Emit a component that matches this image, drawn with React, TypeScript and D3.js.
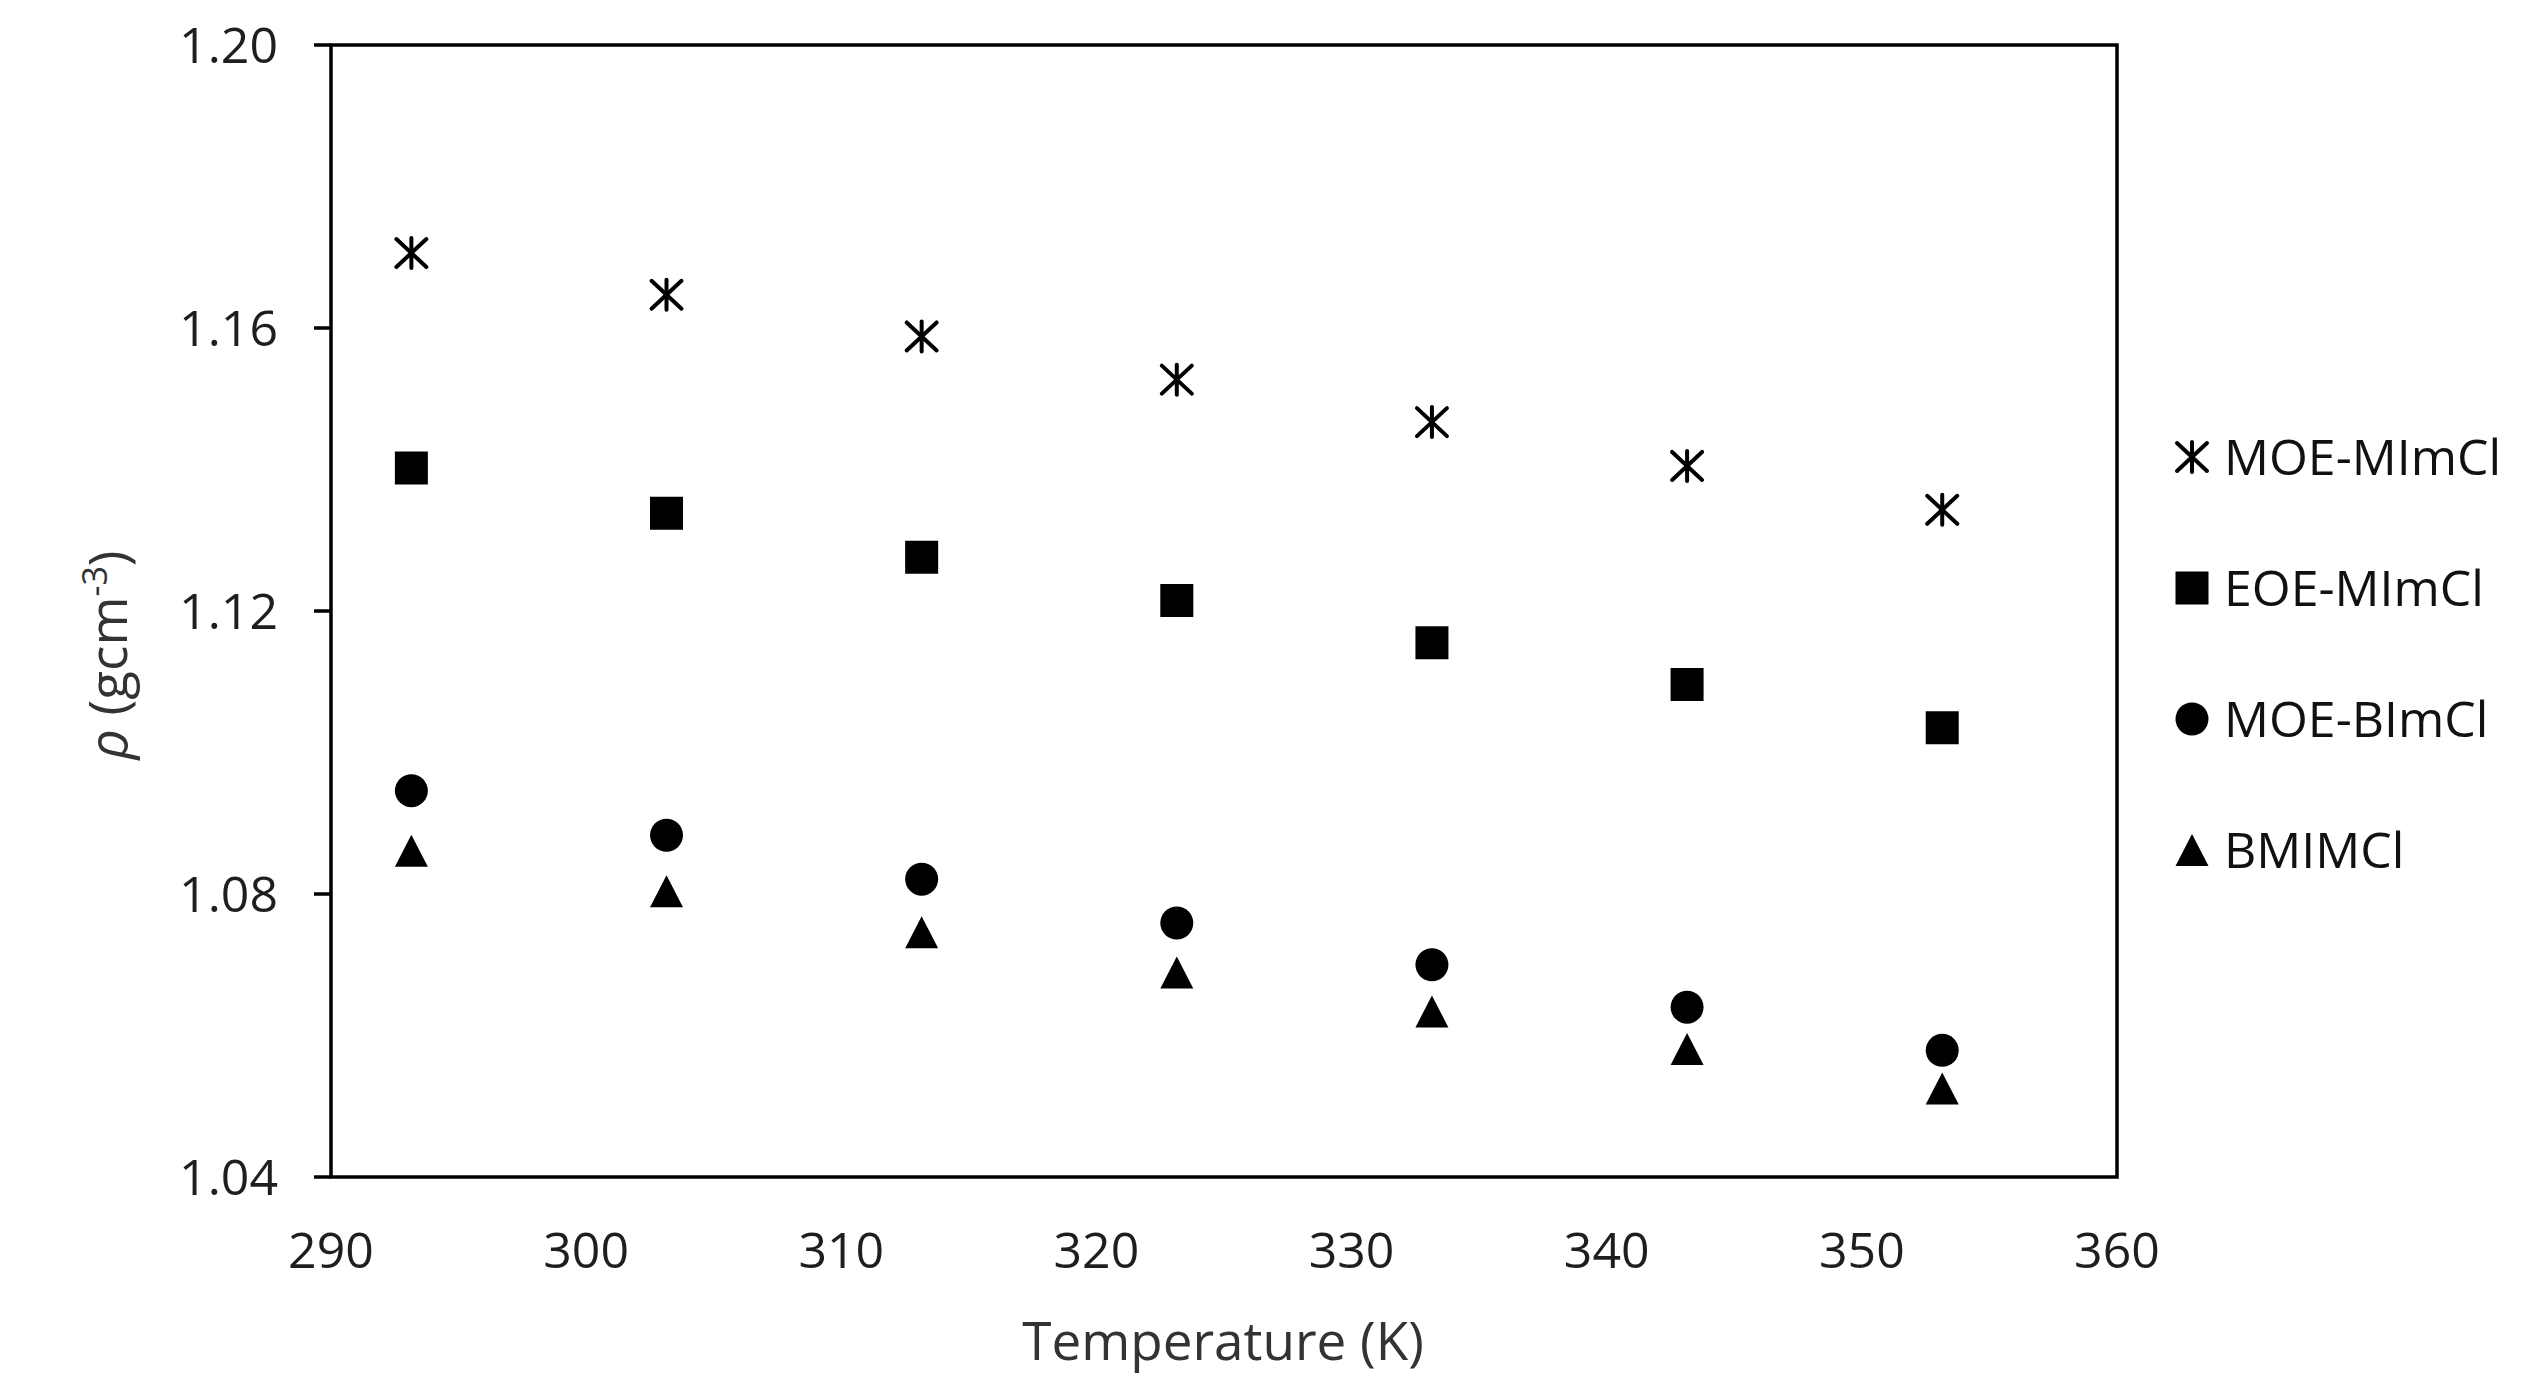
import React from "react";
import * as d3 from "d3";

const temperatures = [293.15, 303.15, 313.15, 323.15, 333.15, 343.15, 353.15];
const moeMImCl = [1.1706, 1.1647, 1.1588, 1.1527, 1.1467, 1.1405, 1.1343];
const eoeMImCl = [1.1402, 1.1338, 1.1276, 1.1215, 1.1155, 1.1096, 1.1035];
const moeBImCl = [1.0946, 1.0883, 1.0821, 1.0759, 1.0700, 1.0640, 1.0579];
const bmimCl = [1.0861, 1.0804, 1.0746, 1.0689, 1.0634, 1.0581, 1.0525];

const seriesNames = ["MOE-MImCl", "EOE-MImCl", "MOE-BImCl", "BMIMCl"];
const seriesMarkers = ["asterisk", "square", "circle", "triangle"];
const xTicks = [290, 300, 310, 320, 330, 340, 350, 360];
const yTicks = [1.04, 1.08, 1.12, 1.16, 1.2];

const W = 2535;
const H = 1392;
const left = 331;
const right = 2117;
const top = 45;
const bottom = 1177;

const FONT = "'Open Sans', 'DejaVu Sans', sans-serif";

function Marker({ kind, cx, cy }: { kind: string; cx: number; cy: number }) {
  if (kind === "asterisk") {
    const hw = 15, hh = 14;
    return (
      <g transform={`translate(${cx},${cy})`} stroke="#000" strokeWidth={4} strokeLinecap="round">
        <line x1={0} y1={-hh - 1} x2={0} y2={hh + 1} />
        <line x1={-hw} y1={-hh} x2={hw} y2={hh} />
        <line x1={-hw} y1={hh} x2={hw} y2={-hh} />
      </g>
    );
  }
  if (kind === "square") {
    const path = d3.symbol(d3.symbolSquare, 33 * 33)();
    return <path d={path || ""} transform={`translate(${cx},${cy})`} fill="#000" />;
  }
  if (kind === "circle") {
    const path = d3.symbol(d3.symbolCircle, Math.PI * 16.5 * 16.5)();
    return <path d={path || ""} transform={`translate(${cx},${cy})`} fill="#000" />;
  }
  const w = 33, h = 32;
  const p = d3.path();
  p.moveTo(0, -h / 2);
  p.lineTo(w / 2, h / 2);
  p.lineTo(-w / 2, h / 2);
  p.closePath();
  return <path d={p.toString()} transform={`translate(${cx},${cy})`} fill="#000" />;
}

export default function App() {
  const x = d3.scaleLinear().domain([290, 360]).range([left, right]);
  const y = d3.scaleLinear().domain([1.04, 1.2]).range([bottom, top]);
  const allSeries = [moeMImCl, eoeMImCl, moeBImCl, bmimCl];
  const legendY = [457, 588, 719, 850];

  return (
    <svg
      width={W}
      height={H}
      style={{ position: "absolute", left: 0, top: 0, background: "#fff" }}
      fontFamily={FONT}
    >
      <rect x={0} y={0} width={W} height={H} fill="#fff" />
      {/* y ticks */}
      {yTicks.map((t) => (
        <g key={t}>
          <line x1={left - 17} x2={left} y1={y(t)} y2={y(t)} stroke="#000" strokeWidth={3.5} />
          <text
            x={278}
            y={y(t)}
            dy="0.36em"
            textAnchor="end"
            fontSize={50}
            fill="#1e1e1e"
          >
            {d3.format(".2f")(t)}
          </text>
        </g>
      ))}
      {/* x tick labels */}
      {xTicks.map((t) => (
        <text key={t} x={x(t)} y={1268} textAnchor="middle" fontSize={50} fill="#1e1e1e">
          {t}
        </text>
      ))}
      {/* frame */}
      <rect
        x={left}
        y={top}
        width={right - left}
        height={bottom - top}
        fill="none"
        stroke="#000"
        strokeWidth={3.5}
      />
      {/* data */}
      {allSeries.map((vals, si) =>
        vals.map((v, i) => (
          <Marker key={`${si}-${i}`} kind={seriesMarkers[si]} cx={x(temperatures[i])} cy={y(v)} />
        ))
      )}
      {/* axis titles */}
      <text x={1223} y={1360} textAnchor="middle" fontSize={53} fill="#333">
        Temperature (K)
      </text>
      <text
        transform={`translate(127,655) rotate(-90)`}
        textAnchor="middle"
        fontSize={53}
        fill="#333"
      >
        <tspan fontStyle="italic">ρ</tspan>
        <tspan> (gcm</tspan>
        <tspan fontSize={34} dy={-20}>-3</tspan>
        <tspan dy={20}>)</tspan>
      </text>
      {/* legend */}
      {seriesNames.map((name, i) => (
        <g key={name}>
          <Marker kind={seriesMarkers[i]} cx={2192} cy={legendY[i]} />
          <text x={2224} y={legendY[i]} dy="0.36em" fontSize={50} fill="#111">
            {name}
          </text>
        </g>
      ))}
    </svg>
  );
}
